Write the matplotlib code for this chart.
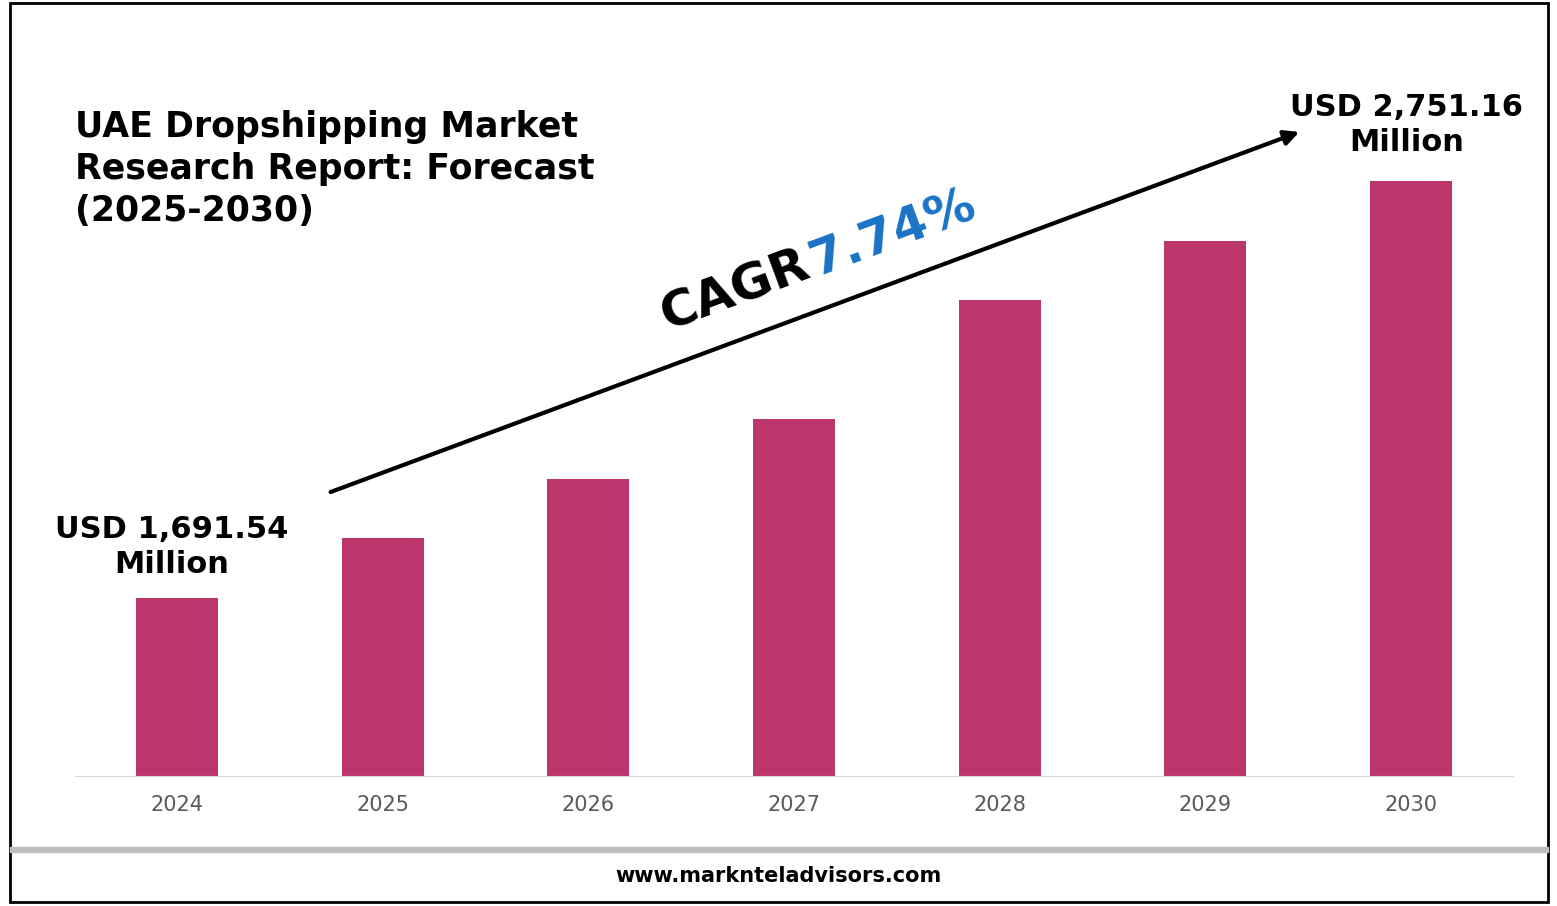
import matplotlib
matplotlib.use("Agg")
import matplotlib.pyplot as plt
from matplotlib.patches import Rectangle, FancyArrowPatch

years = ["2024", "2025", "2026", "2027", "2028", "2029", "2030"]
# bar heights as drawn (relative units)
bar_heights = [178, 238, 297, 357, 476, 535, 595]
start_label = "USD 1,691.54\nMillion"
end_label = "USD 2,751.16\nMillion"
cagr = "7.74%"

BAR = "#BC366C"
BLUE = "#1A73C6"
FONT = "DejaVu Sans"

W, H = 1557, 906
fig = plt.figure(figsize=(W / 100, H / 100), dpi=100)
fig.patch.set_facecolor("white")

def fx(px):
    return px / W

def fy(py):
    return 1 - py / H

# plot area: baseline y=776, x 75..1513
ax = fig.add_axes([fx(75), fy(776), fx(1513 - 75), (776 - 76) / H])
x = list(range(len(years)))
ax.bar(x, bar_heights, width=0.4, color=BAR)
ax.set_xlim(-0.496, 6.496)
ax.set_ylim(0, 700)
ax.set_yticks([])
ax.set_xticks(x)
ax.set_xticklabels(years, fontsize=15, color="#595959", family=FONT)
ax.tick_params(axis="x", length=0, pad=14)
for s in ["top", "right", "left"]:
    ax.spines[s].set_visible(False)
ax.spines["bottom"].set_color("#d9d9d9")
ax.set_facecolor("none")

# frame, footer separator
fig.patches.append(Rectangle((fx(10), fy(902)), fx(1538), (902 - 3) / H,
                             transform=fig.transFigure, fill=False,
                             edgecolor="black", linewidth=2))
fig.patches.append(Rectangle((fx(10), fy(852)), fx(1538), 5 / H,
                             transform=fig.transFigure, color="#bfbfbf"))
fig.text(0.5, fy(876), "www.marknteladvisors.com", ha="center", va="center",
         fontsize=15, fontweight="bold", family=FONT)

# title
fig.text(fx(75), fy(110), "UAE Dropshipping Market\nResearch Report: Forecast\n(2025-2030)",
         ha="left", va="top", fontsize=25, fontweight="bold", family=FONT,
         linespacing=1.3)

# value labels
fig.text(fx(172), fy(547), start_label, ha="center", va="center",
         fontsize=22, fontweight="bold", family=FONT, linespacing=1.25)
fig.text(fx(1407), fy(125), end_label, ha="center", va="center",
         fontsize=22, fontweight="bold", family=FONT, linespacing=1.25)

# CAGR arrow
arr = FancyArrowPatch((fx(328), fy(493)), (fx(1302), fy(131)),
                      transform=fig.transFigure, arrowstyle="-|>",
                      mutation_scale=22, linewidth=3, color="black")
fig.patches.append(arr)
fig.text(fx(735), fy(290), "CAGR", ha="center", va="center", rotation=20.4,
         fontsize=36, fontweight="bold", family=FONT, rotation_mode="anchor")
fig.text(fx(893), fy(233), cagr, ha="center", va="center", rotation=20.4,
         fontsize=36, fontweight="bold", family=FONT, color=BLUE,
         rotation_mode="anchor")

fig.savefig("out.png", dpi=100)
